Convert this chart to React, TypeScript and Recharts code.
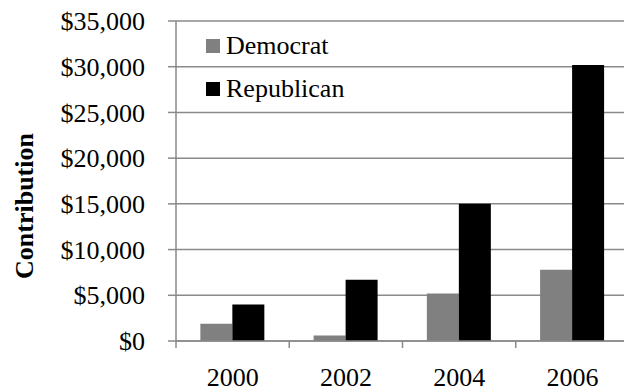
import { BarChart, Bar, XAxis, YAxis, CartesianGrid, Legend } from 'recharts';

const years = ['2000', '2002', '2004', '2006'];
const democrat = [1900, 600, 5200, 7800];
const republican = [4000, 6700, 15000, 30200];
const yTicks = [0, 5000, 10000, 15000, 20000, 25000, 30000, 35000];

const data = years.map((year, i) => ({
  year,
  Democrat: democrat[i],
  Republican: republican[i],
}));

const FONT = 'Liberation Serif';
const AXIS_GRAY = '#8a8a8a';

const formatDollars = (v: number) => `$${v.toLocaleString('en-US')}`;

// category label plus an Excel-style tick mark on the left edge of each band
function YearTick(props: any) {
  const { x, y, payload, width } = props;
  const half = (width ?? 453) / years.length / 2;
  return (
    <g>
      <line x1={x - half} y1={y} x2={x - half} y2={y + 7} stroke={AXIS_GRAY} strokeWidth={1.5} />
      <text
        x={x}
        y={y + 45}
        textAnchor="middle"
        fill="#000"
        fontFamily={FONT}
        fontSize={26}
        fontWeight={400}
      >
        {payload.value}
      </text>
    </g>
  );
}

function YValueTick(props: any) {
  const { x, y, payload } = props;
  return (
    <text
      x={x}
      y={y}
      dy="0.35em"
      textAnchor="end"
      fill="#000"
      fontFamily={FONT}
      fontSize={26}
      fontWeight={400}
    >
      {formatDollars(payload.value)}
    </text>
  );
}

function LegendBox(props: any) {
  const { payload } = props;
  return (
    <div style={{ fontFamily: FONT, fontSize: 26, fontWeight: 400, color: '#000', lineHeight: 1 }}>
      {payload.map((entry: any) => (
        <div key={entry.value} style={{ display: 'flex', alignItems: 'center', height: 42.5 }}>
          <span style={{ width: 14, height: 14, background: entry.color, marginRight: 6, display: 'inline-block' }} />
          <span>{entry.value}</span>
        </div>
      ))}
    </div>
  );
}

function AxisTitle(props: any) {
  const { viewBox } = props;
  const cy = viewBox ? viewBox.y + viewBox.height / 2 + 25 : 206;
  return (
    <text
      x={33}
      y={cy}
      transform={`rotate(-90, 33, ${cy})`}
      textAnchor="middle"
      fill="#000"
      fontFamily={FONT}
      fontSize={26}
      fontWeight="bold"
    >
      Contribution
    </text>
  );
}

export default function App() {
  return (
    <div
      style={{
        position: 'fixed',
        left: 0,
        top: 0,
        width: 624,
        height: 392,
        overflow: 'hidden',
        background: '#fff',
        fontFamily: FONT,
      }}
    >
      <BarChart
        width={640}
        height={392}
        data={data}
        margin={{ top: 21, right: 11, bottom: 0, left: 0 }}
        barCategoryGap="21.5%"
        barGap={0}
      >
        <CartesianGrid vertical={false} stroke={AXIS_GRAY} strokeWidth={1.5} />
        <XAxis
          dataKey="year"
          height={51}
          tickLine={false}
          tickSize={0}
          tickMargin={0}
          axisLine={{ stroke: AXIS_GRAY, strokeWidth: 1.5 }}
          tick={<YearTick />}
          interval={0}
        />
        <YAxis
          width={176}
          domain={[0, 35000]}
          ticks={yTicks}
          interval={0}
          tickSize={8}
          tickMargin={23}
          tickLine={{ stroke: AXIS_GRAY, strokeWidth: 1.5 }}
          axisLine={{ stroke: AXIS_GRAY, strokeWidth: 1.5 }}
          tick={<YValueTick />}
          label={<AxisTitle />}
        />
        <Legend
          layout="vertical"
          align="center"
          verticalAlign="middle"
          content={<LegendBox />}
          wrapperStyle={{ top: 25, left: 206, width: 'auto', height: 'auto' }}
        />
        <Bar dataKey="Democrat" fill="#808080" isAnimationActive={false} />
        <Bar dataKey="Republican" fill="#000000" isAnimationActive={false} />
      </BarChart>
    </div>
  );
}
